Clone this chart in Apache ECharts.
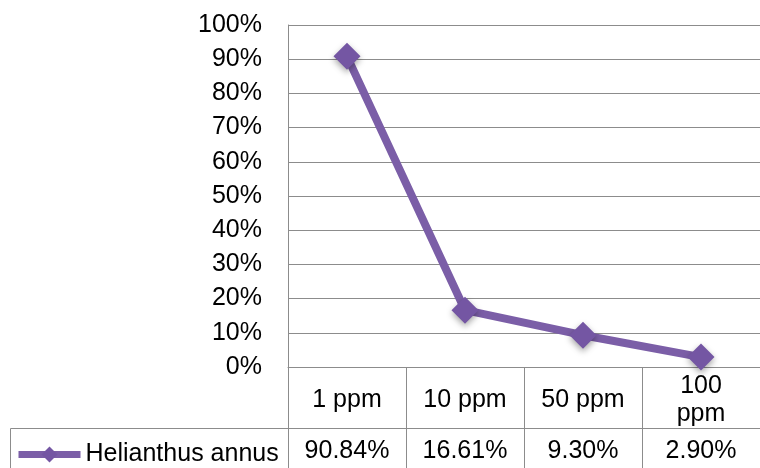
<!DOCTYPE html>
<html>
<head>
<meta charset="utf-8">
<script src="https://cdn.jsdelivr.net/npm/echarts@6/dist/echarts.min.js"></script>
<style>
  html, body { margin: 0; padding: 0; background: #fff; }
  #chart { width: 760px; height: 468px; }
</style>
</head>
<body>
<div id="chart"></div>
<script>
// data
const categories = ['1 ppm', '10 ppm', '50 ppm', '100 ppm'];
const seriesName = 'Helianthus annus';
const values = [90.84, 16.61, 9.30, 2.90];

const font = 'Liberation Sans, Arial, sans-serif';
const gridColor = '#8c8c8c';
const purple = '#7b5ea7';

const chart = echarts.init(document.getElementById('chart'));

const option = {
  animation: false,
  textStyle: { fontFamily: font },
  grid: { left: 288, top: 25, width: 480, height: 342, containLabel: false },
  legend: {
    left: 10,
    top: 437,
    itemWidth: 62,
    itemHeight: 20,
    itemGap: 4,
    lineStyle: { width: 7 },
    textStyle: { fontSize: 25, color: '#000', fontFamily: font },
    data: [seriesName]
  },
  xAxis: [
    {
      // category row of the data table
      type: 'category',
      data: categories,
      boundaryGap: true,
      position: 'bottom',
      axisLine: { lineStyle: { color: gridColor, width: 1 } },
      axisTick: { show: true, inside: false, length: 61, lineStyle: { color: gridColor } },
      axisLabel: {
        interval: 0,
        margin: 33,
        verticalAlign: 'middle',
        fontSize: 25,
        lineHeight: 28,
        color: '#000',
        fontFamily: font,
        formatter: v => (v.length > 6 ? v.replace(' ', '\n') : v)
      },
      splitLine: { show: false }
    },
    {
      // value row of the data table
      type: 'category',
      data: categories,
      boundaryGap: true,
      position: 'bottom',
      offset: 61,
      axisLine: { lineStyle: { color: gridColor, width: 1 } },
      axisTick: { show: true, inside: false, length: 50, lineStyle: { color: gridColor } },
      axisLabel: {
        interval: 0,
        margin: 23,
        verticalAlign: 'middle',
        fontSize: 25,
        color: '#000',
        fontFamily: font,
        formatter: (v, i) => values[i].toFixed(2) + '%'
      },
      splitLine: { show: false }
    }
  ],
  yAxis: {
    type: 'value',
    min: 0,
    max: 1,
    interval: 0.1,
    axisLine: { show: true, lineStyle: { color: gridColor, width: 1 } },
    axisTick: { show: false },
    axisLabel: {
      margin: 26,
      fontSize: 25,
      color: '#000',
      fontFamily: font,
      formatter: v => Math.round(v * 100) + '%'
    },
    splitLine: { show: true, lineStyle: { color: gridColor, width: 1 } }
  },
  graphic: [
    {
      // left cell of the value row (legend key box)
      type: 'rect',
      shape: { x: 10.5, y: 428.5, width: 278, height: 60 },
      style: { fill: 'none', stroke: gridColor, lineWidth: 1 },
      silent: true
    }
  ],
  series: [
    {
      name: seriesName,
      type: 'line',
      xAxisIndex: 0,
      data: values.map(v => v / 100),
      symbol: 'diamond',
      symbolSize: [27, 27],
      lineStyle: { color: purple, width: 8 },
      itemStyle: {
        color: '#7456a3',
        shadowBlur: 6,
        shadowColor: 'rgba(0,0,0,0.35)',
        shadowOffsetY: 3
      }
    }
  ]
};

chart.setOption(option);
</script>
</body>
</html>
